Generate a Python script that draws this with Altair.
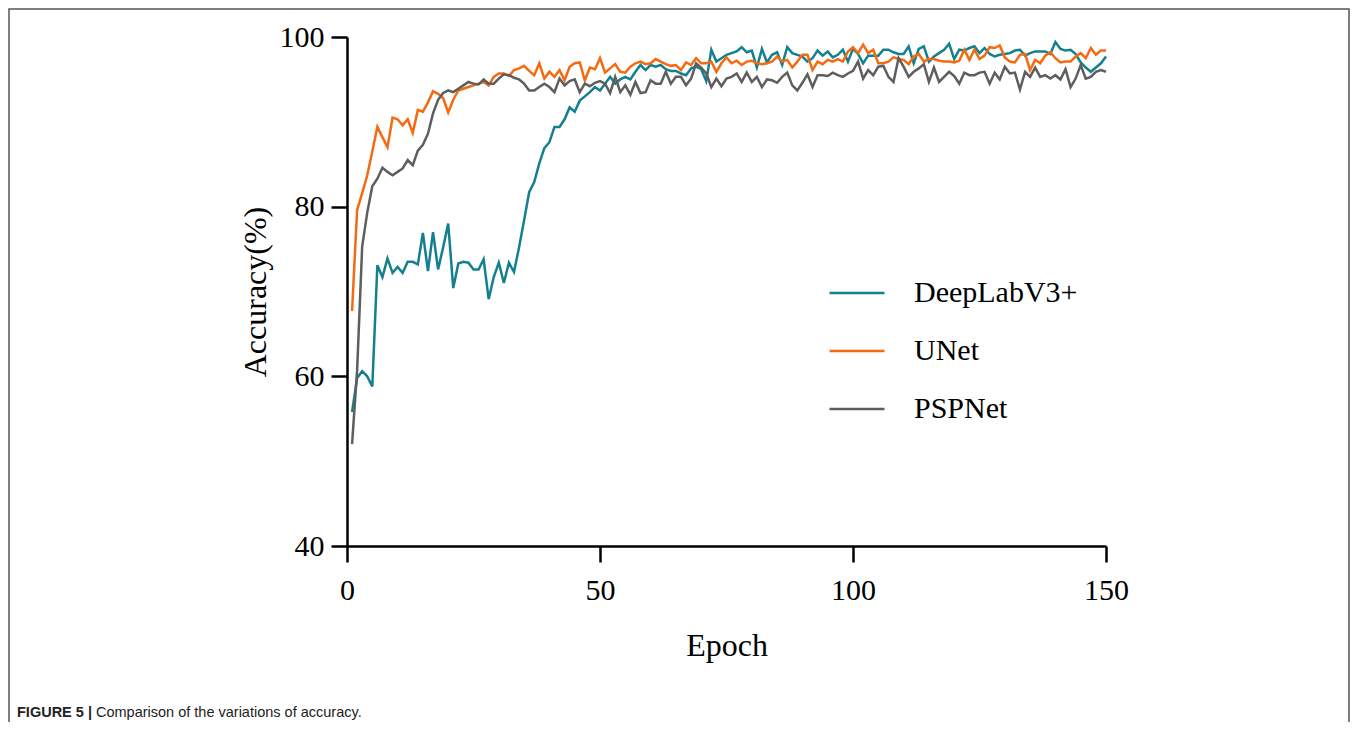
import altair as alt
import pandas as pd

models = ["DeepLabV3+", "UNet", "PSPNet"]
colors = ["#14808f", "#f56a10", "#5e5e5e"]
epochs = list(range(1, 151))

deeplab = [
    55.8, 59.8, 60.6, 60.0, 58.8, 73.1, 71.7, 73.9, 72.2, 72.9,
    72.2, 73.5, 73.5, 73.2, 76.9, 72.4, 77.0, 72.6, 75.2, 78.0,
    70.4, 73.3, 73.5, 73.4, 72.6, 72.6, 73.8, 69.1, 71.7, 73.4,
    71.0, 73.4, 72.3, 75.2, 78.4, 81.7, 82.9, 85.1, 86.9, 87.6,
    89.4, 89.4, 90.3, 91.7, 91.2, 92.5, 93.0, 93.5, 94.1, 93.7,
    94.5, 95.3, 94.5, 95.0, 95.3, 95.0, 95.9, 96.7, 96.1, 96.7,
    96.5, 96.7, 96.2, 96.0, 96.0, 95.7, 95.5, 96.3, 96.5, 96.2,
    94.8, 98.5, 97.1, 97.5, 97.9, 98.1, 98.3, 98.8, 98.2, 98.4,
    96.4, 98.6, 97.0, 97.9, 98.2, 96.7, 98.8, 98.1, 97.9, 97.7,
    97.1, 97.5, 98.4, 97.8, 98.3, 97.6, 97.9, 98.5, 97.1, 98.6,
    98.0, 96.9, 97.8, 97.8, 97.8, 98.5, 98.5, 98.2, 98.0, 98.0,
    98.9, 96.9, 98.6, 98.9, 97.1, 97.7, 98.1, 98.5, 99.2, 97.4,
    98.5, 98.4, 98.7, 98.9, 98.1, 98.7, 98.0, 97.7, 97.9, 98.0,
    98.1, 98.4, 98.5, 97.8, 98.1, 98.3, 98.3, 98.3, 98.0, 99.4,
    98.6, 98.4, 98.5, 98.0, 97.0, 96.4, 95.9, 96.4, 96.9, 97.7,
]

unet = [
    67.7, 79.6, 81.6, 83.7, 86.5, 89.4, 88.2, 87.0, 90.5, 90.3,
    89.6, 90.3, 88.7, 91.4, 91.2, 92.3, 93.6, 93.3, 92.8, 91.1,
    92.6, 93.7, 93.9, 94.1, 94.3, 94.5, 94.7, 94.3, 95.3, 95.7,
    95.7, 95.4, 96.1, 96.3, 96.6, 96.0, 95.5, 96.9, 95.1, 95.9,
    95.3, 96.1, 94.9, 96.5, 96.9, 97.0, 94.9, 96.4, 96.2, 97.5,
    95.8, 96.3, 96.8, 95.9, 95.8, 96.5, 96.9, 97.1, 96.8, 96.9,
    97.4, 97.1, 96.8, 96.6, 96.7, 96.1, 97.0, 96.7, 97.5, 96.9,
    96.9, 97.1, 95.9, 96.9, 97.6, 96.9, 97.2, 96.7, 97.1, 97.2,
    96.9, 96.8, 96.9, 97.1, 97.7, 97.1, 97.3, 96.4, 97.1, 97.9,
    97.9, 96.1, 97.1, 96.8, 97.3, 97.1, 97.4, 97.1, 98.3, 98.8,
    98.1, 99.1, 98.1, 98.5, 96.9, 96.9, 97.1, 97.6, 97.4, 97.3,
    96.8, 97.7, 98.0, 97.1, 97.4, 97.4, 97.2, 97.1, 97.1, 97.0,
    97.2, 98.5, 97.3, 98.5, 97.4, 97.8, 98.8, 98.7, 99.0, 97.6,
    97.1, 97.0, 97.9, 98.0, 96.1, 97.3, 96.9, 97.8, 98.2, 97.5,
    97.0, 97.1, 97.1, 97.7, 98.1, 97.5, 98.7, 97.9, 98.4, 98.4,
]

pspnet = [
    52.0, 60.7, 75.3, 79.3, 82.4, 83.3, 84.6, 84.1, 83.7, 84.1,
    84.5, 85.5, 84.9, 86.6, 87.3, 88.6, 91.0, 92.6, 93.4, 93.7,
    93.5, 93.9, 94.3, 94.7, 94.5, 94.4, 95.0, 94.5, 94.5, 95.1,
    95.6, 95.5, 95.2, 95.0, 94.5, 93.7, 93.7, 94.1, 94.5, 94.1,
    93.5, 95.1, 94.3, 94.8, 95.0, 93.5, 94.5, 94.2, 94.6, 94.8,
    94.5, 93.4, 95.3, 93.5, 94.3, 93.2, 94.7, 93.4, 93.5, 94.9,
    94.5, 94.5, 95.9, 94.5, 95.3, 95.3, 94.3, 95.1, 96.9, 96.4,
    95.7, 94.1, 95.1, 94.2, 95.1, 95.3, 95.7, 94.7, 95.8, 94.7,
    95.3, 94.1, 95.0, 94.9, 94.6, 95.3, 95.8, 94.3, 93.7, 94.6,
    95.6, 94.1, 95.5, 95.5, 95.4, 95.8, 95.5, 95.3, 95.7, 96.0,
    97.1, 95.1, 96.1, 95.5, 96.5, 96.6, 95.3, 94.7, 97.5, 96.5,
    95.3, 95.9, 96.3, 96.8, 94.7, 96.4, 94.7, 95.3, 95.9, 95.4,
    94.5, 95.8, 95.5, 95.5, 95.8, 95.9, 94.5, 95.8, 95.0, 96.5,
    95.7, 95.8, 93.8, 95.9, 95.3, 96.4, 95.3, 95.5, 95.1, 95.5,
    95.0, 96.2, 94.1, 95.1, 96.7, 95.1, 95.3, 95.9, 96.1, 95.9,
]

x_ticks = [0, 50, 100, 150]
y_ticks = [40, 60, 80, 100]
caption_bold = "FIGURE 5 |"
caption_rest = "Comparison of the variations of accuracy."

rows = []
for name, vals in zip(models, [deeplab, unet, pspnet]):
    for e, v in zip(epochs, vals):
        rows.append({"Epoch": e, "Accuracy": v, "Model": name})
df = pd.DataFrame(rows)

serif = "Liberation Serif"
capfont = "Liberation Sans"

lines = alt.Chart(df).mark_line(strokeWidth=2.5).encode(
    x=alt.X("Epoch:Q",
            scale=alt.Scale(domain=[0, 150], nice=False, zero=False),
            axis=alt.Axis(values=x_ticks, title="Epoch", grid=False,
                          tickSize=16, labelPadding=13, titlePadding=25,
                          labelFlush=False)),
    y=alt.Y("Accuracy:Q",
            scale=alt.Scale(domain=[40, 100], nice=False, zero=False),
            axis=alt.Axis(values=y_ticks, title="Accuracy(%)", grid=False,
                          tickSize=16, labelPadding=7, titlePadding=7)),
    color=alt.Color("Model:N",
                    scale=alt.Scale(domain=models, range=colors),
                    sort=models,
                    legend=alt.Legend(title=None, orient="none",
                                      legendX=481, legendY=227,
                                      symbolType="stroke", symbolSize=3025,
                                      symbolStrokeWidth=2.5,
                                      labelFont=serif, labelFontSize=30,
                                      labelColor="black", labelLimit=400,
                                      labelOffset=28, rowPadding=14)),
)

one = pd.DataFrame({"k": [0]})

frame = alt.Chart(one).mark_rect(fillOpacity=0, stroke="#555555",
                                 strokeWidth=1.5).encode(
    x=alt.value(-338), x2=alt.value(1002),
    y=alt.value(-28), y2=alt.value(715),
)

cap1 = alt.Chart(one).mark_text(align="left", baseline="middle",
                                font=capfont, fontSize=14.5,
                                fontWeight="bold", color="#222222").encode(
    x=alt.value(-330), y=alt.value(676), text=alt.value(caption_bold)
)
cap2 = alt.Chart(one).mark_text(align="left", baseline="middle",
                                font=capfont, fontSize=14.5,
                                color="#222222").encode(
    x=alt.value(-251), y=alt.value(676), text=alt.value(caption_rest)
)

chart = alt.layer(frame, lines, cap1, cap2).properties(
    width=759, height=509,
    autosize=alt.AutoSizeParams(type="none"),
    padding={"left": 339, "top": 29, "right": 245, "bottom": 176},
).configure_view(stroke=None).configure_axis(
    domainColor="black", domainWidth=2.5, tickColor="black", tickWidth=2.5,
    labelFont=serif, labelFontSize=30, labelColor="black",
    titleFont=serif, titleFontSize=32, titleFontWeight="normal",
    titleColor="black",
)

chart.save("out.html", embed_options={"renderer": "svg", "actions": False})
